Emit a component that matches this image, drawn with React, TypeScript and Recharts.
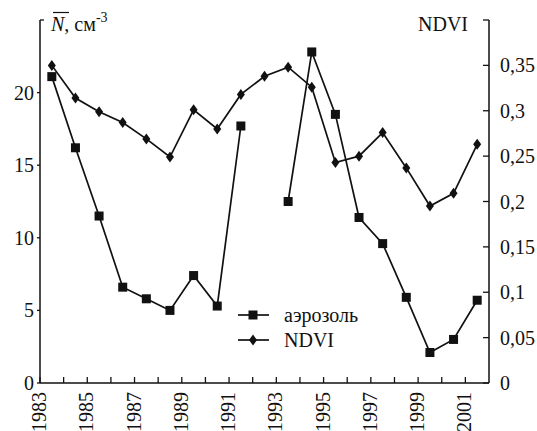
import { LineChart, Line, XAxis, YAxis } from "recharts";

const years = [
  1983, 1984, 1985, 1986, 1987, 1988, 1989, 1990, 1991, 1992,
  1993, 1994, 1995, 1996, 1997, 1998, 1999, 2000, 2001,
];
const aerosol = [
  21.1, 16.2, 11.5, 6.6, 5.8, 5.0, 7.4, 5.3, 17.7, null,
  12.5, 22.8, 18.5, 11.4, 9.6, 5.9, 2.1, 3.0, 5.7,
];
const ndvi = [
  0.35, 0.314, 0.299, 0.287, 0.269, 0.249, 0.301, 0.28, 0.318, 0.338,
  0.348, 0.326, 0.243, 0.25, 0.276, 0.237, 0.195, 0.209, 0.263,
];
const yearTicks = [
  1983, 1984, 1985, 1986, 1987, 1988, 1989, 1990, 1991, 1992,
  1993, 1994, 1995, 1996, 1997, 1998, 1999, 2000, 2001,
];
const leftTicks = [0, 5, 10, 15, 20, 25];
const rightTicks = [0, 0.05, 0.1, 0.15, 0.2, 0.25, 0.3, 0.35, 0.4];

// points sit in the middle of each year
const data = years.map((y, i) => ({ x: y + 0.5, aerosol: aerosol[i], ndvi: ndvi[i] }));

const FONT = '"Liberation Serif", "Times New Roman", serif';
const INK = "#111";
const txt = { fontFamily: FONT, fontSize: 20, fill: INK };

const XTick = (props: any) => {
  const { x, y, payload } = props;
  const v = payload.value;
  return (
    <g>
      <line x1={x} y1={y} x2={x} y2={y - 6} stroke={INK} strokeWidth={1.3} />
      {v % 2 === 1 && (
        <text
          transform={`translate(${x},${y + 9}) rotate(-90)`}
          textAnchor="end"
          dy="0.3em"
          style={txt}
        >
          {v}
        </text>
      )}
    </g>
  );
};

const LeftTick = (props: any) => {
  const { x, y, payload } = props;
  const v = payload.value;
  if (v === 25) return <line x1={x} y1={y} x2={x + 4} y2={y} stroke={INK} strokeWidth={1.3} />;
  return (
    <g>
      <line x1={x - 3} y1={y} x2={x} y2={y} stroke={INK} strokeWidth={1.3} />
      <text x={x - 6} y={y} dy="0.35em" textAnchor="end" style={txt}>
        {v}
      </text>
    </g>
  );
};

const RightTick = (props: any) => {
  const { x, y, payload } = props;
  const v = payload.value;
  return (
    <g>
      <line x1={x - 6} y1={y} x2={x} y2={y} stroke={INK} strokeWidth={1.3} />
      {v < 0.4 && (
        <text x={x + 11} y={y} dy="0.35em" textAnchor="start" style={txt}>
          {String(v).replace(".", ",")}
        </text>
      )}
    </g>
  );
};

const SquareDot = (props: any) => {
  const { cx, cy, index } = props;
  if (cx == null || cy == null) return <g key={`s${index}`} />;
  return <rect key={`s${index}`} x={cx - 4.5} y={cy - 4.5} width={9} height={9} fill={INK} />;
};

const DiamondDot = (props: any) => {
  const { cx, cy, index } = props;
  if (cx == null || cy == null) return <g key={`d${index}`} />;
  return (
    <polygon
      key={`d${index}`}
      points={`${cx},${cy - 5.5} ${cx + 4},${cy} ${cx},${cy + 5.5} ${cx - 4},${cy}`}
      fill={INK}
    />
  );
};

export default function App() {
  return (
    <div style={{ position: "absolute", left: 0, top: 0, width: 537, height: 431, background: "#fff" }}>
      <LineChart width={537} height={431} data={data} margin={{ top: 20, right: 0, bottom: 0, left: 0 }}>
        <XAxis
          dataKey="x"
          type="number"
          domain={[1983, 2002]}
          ticks={yearTicks}
          interval={0}
          height={48}
          tickSize={0}
          tickMargin={0}
          tickLine={false}
          axisLine={{ stroke: INK, strokeWidth: 1.5 }}
          tick={<XTick />}
        />
        <YAxis
          yAxisId="left"
          domain={[0, 25]}
          ticks={leftTicks}
          interval={0}
          width={40}
          tickSize={0}
          tickMargin={0}
          tickLine={false}
          axisLine={{ stroke: INK, strokeWidth: 1.5 }}
          tick={<LeftTick />}
        />
        <YAxis
          yAxisId="right"
          orientation="right"
          domain={[0, 0.4]}
          ticks={rightTicks}
          interval={0}
          width={48}
          tickSize={0}
          tickMargin={0}
          tickLine={false}
          axisLine={{ stroke: INK, strokeWidth: 1.5 }}
          tick={<RightTick />}
        />
        <Line
          yAxisId="left"
          dataKey="aerosol"
          type="linear"
          stroke={INK}
          strokeWidth={1.7}
          dot={SquareDot}
          activeDot={false}
          connectNulls={false}
          isAnimationActive={false}
        />
        <Line
          yAxisId="right"
          dataKey="ndvi"
          type="linear"
          stroke={INK}
          strokeWidth={1.7}
          dot={DiamondDot}
          activeDot={false}
          isAnimationActive={false}
        />
      </LineChart>
      <svg
        width={537}
        height={431}
        style={{ position: "absolute", left: 0, top: 0, pointerEvents: "none" }}
      >
        {/* left axis title */}
        <line x1={53} y1={12.5} x2={69} y2={12.5} stroke={INK} strokeWidth={1.2} />
        <text x={51} y={31} style={txt}>
          <tspan fontStyle="italic">N</tspan>
          <tspan>, см</tspan>
          <tspan fontSize={14} dy={-9}>-3</tspan>
        </text>
        {/* right axis title */}
        <text x={418} y={31} style={txt}>NDVI</text>
        {/* legend */}
        <line x1={238} y1={315} x2={269} y2={315} stroke={INK} strokeWidth={1.7} />
        <rect x={248.5} y={310.5} width={9} height={9} fill={INK} />
        <text x={284} y={315} dy="0.35em" style={txt}>аэрозоль</text>
        <line x1={238} y1={340} x2={269} y2={340} stroke={INK} strokeWidth={1.7} />
        <polygon points="253,334.5 257,340 253,345.5 249,340" fill={INK} />
        <text x={284} y={340} dy="0.35em" style={txt}>NDVI</text>
      </svg>
    </div>
  );
}
